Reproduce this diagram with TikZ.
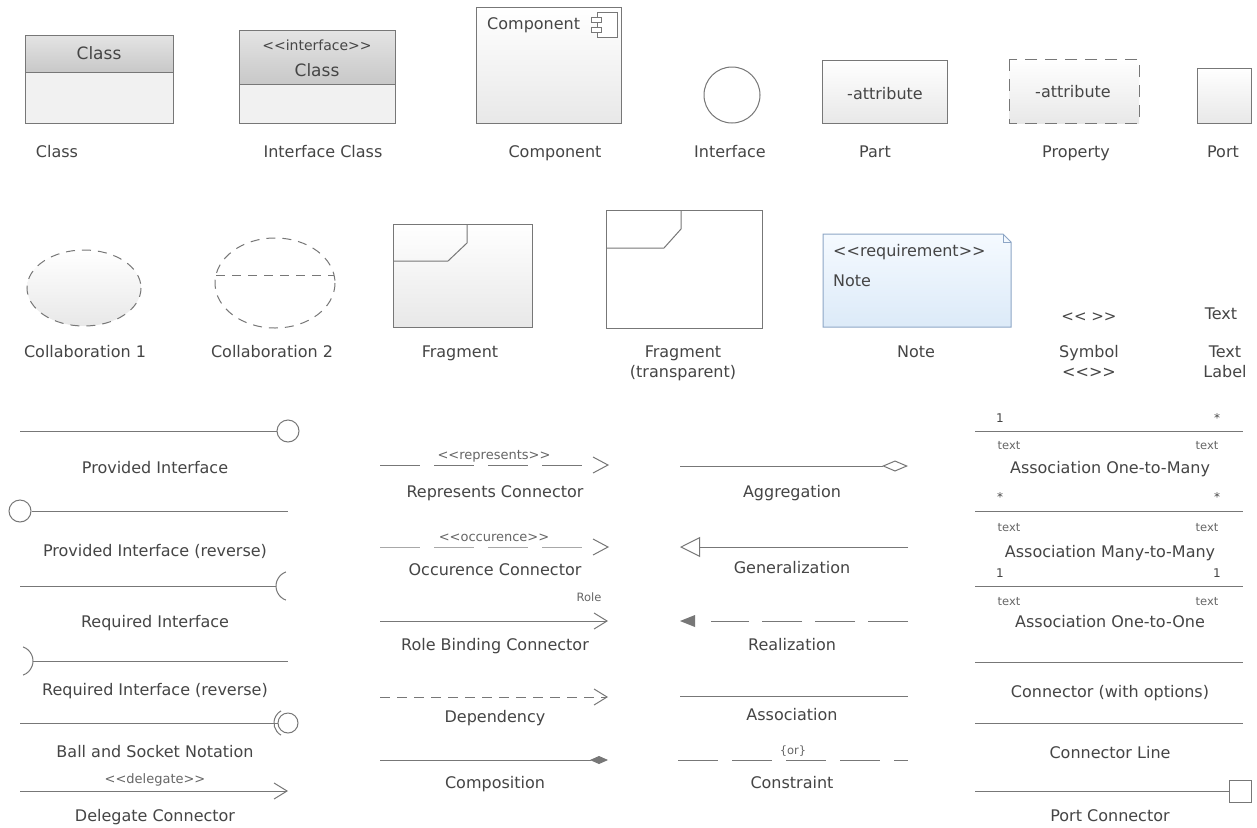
\documentclass[tikz,border=0pt]{standalone}
\usepackage{fontspec}
\setmainfont{DejaVu Sans}
\usetikzlibrary{arrows.meta,shapes.geometric,calc}
\definecolor{lnc}{HTML}{777777}
\definecolor{lnl}{HTML}{A8A8A8}
\definecolor{txc}{HTML}{454545}
\definecolor{txl}{HTML}{666666}
\definecolor{hdtop}{HTML}{E4E4E4}
\definecolor{hdbot}{HTML}{C8C8C8}
\definecolor{bodyc}{HTML}{F1F1F1}
\definecolor{grbot}{HTML}{E8E8E8}
\definecolor{notetop}{HTML}{F5FAFF}
\definecolor{notebot}{HTML}{DCEAF8}
\definecolor{notebd}{HTML}{8DA6C6}
\newcommand{\lgl}{<{}<}
\newcommand{\rgl}{>{}>}
\tikzset{
  lbl/.style={font=\fontsize{16}{20}\selectfont, text=txc, align=center, inner sep=0pt, anchor=base, yshift=-5.5pt},
  inbox/.style={font=\fontsize{16}{20}\selectfont, text=txc, inner sep=0pt, anchor=base, yshift=-5.5pt},
  inboxw/.style={font=\fontsize{16}{20}\selectfont, text=txc, inner sep=0pt, anchor=base west, yshift=-5.5pt},
  sm/.style={font=\fontsize{11.5}{13}\selectfont, text=txl, inner sep=0pt, anchor=base, yshift=-4pt},
  stereo/.style={font=\fontsize{13}{15}\selectfont, text=txl, inner sep=0pt, anchor=base, yshift=-4.5pt},
  mult/.style={font=\fontsize{12}{14}\selectfont, text=txc, inner sep=0pt, anchor=base, yshift=-4.5pt},
  ln/.style={draw=lnc, line width=1pt},
  lnlight/.style={draw=lnl, line width=1pt},
  longdash/.style={dash pattern=on 40pt off 14pt},
  shortdash/.style={dash pattern=on 10pt off 7pt},
  openarr/.style={-{Straight Barb[length=13pt,width=16pt,line width=1pt]}},
  ballnode/.style={circle, draw=lnc, line width=1pt, fill=white, inner sep=0pt},
  gradbox/.style={draw=lnc, line width=1pt, top color=white, bottom color=grbot},
}
\begin{document}
\begin{tikzpicture}[x=1pt,y=-1pt]
\useasboundingbox (0,0) rectangle (1257,827);
\fill[white] (0,0) rectangle (1257,827);

% ---------- Row 1 ----------
% Class
\shade[top color=hdtop, bottom color=hdbot] (25,35) rectangle (173,72);
\fill[bodyc] (25,72) rectangle (173,123);
\draw[ln] (25,35) rectangle (173,123);
\draw[ln] (25,72) -- (173,72);
\node[inbox, font=\fontsize{17}{20}\selectfont] (clsname) at (99,54) {Class};
\node[lbl] (clslbl) at (57,152) {Class};

% Interface class
\shade[top color=hdtop, bottom color=hdbot] (239,30) rectangle (395,84);
\fill[bodyc] (239,84) rectangle (395,123);
\draw[ln] (239,30) rectangle (395,123);
\draw[ln] (239,84) -- (395,84);
\node[inbox, font=\fontsize{14}{16}\selectfont, yshift=1pt] (ifst) at (317,46) {\lgl interface\rgl};
\node[inbox, font=\fontsize{17}{20}\selectfont] (ifname) at (317,71) {Class};
\node[lbl] (iflbl) at (323,152) {Interface Class};

% Component
\draw[gradbox] (476,7) rectangle (621,123);
\node[inboxw] (compname) at (487,24) {Component};
\draw[ln, fill=white] (597,12) rectangle (617,37);
\draw[ln, fill=white] (591,17) rectangle (601,22);
\draw[ln, fill=white] (591,27) rectangle (601,32);
\node[lbl] (complbl) at (555,152) {Component};

% Interface
\node[ballnode, minimum size=56pt] (ifc) at (732,95) {};
\node[lbl] (ifclbl) at (730,152) {Interface};

% Part
\draw[gradbox] (822,60) rectangle (947,123);
\node[inbox] (partattr) at (885,94) {-attribute};
\node[lbl] (partlbl) at (875,152) {Part};

% Property
\draw[draw=lnc, line width=1pt, dash pattern=on 12pt off 8pt, top color=white, bottom color=grbot] (1009,59) rectangle (1139,123);
\node[inbox] (propattr) at (1073,92) {-attribute};
\node[lbl] (proplbl) at (1076,152) {Property};

% Port
\draw[gradbox] (1197,68) rectangle (1251,123);
\node[lbl] (portlbl) at (1223,152) {Port};

% ---------- Row 2 ----------
% Collaboration 1
\draw[draw=lnc, line width=1pt, dash pattern=on 9pt off 7pt, top color=white, bottom color=grbot] (84,288) ellipse [x radius=57, y radius=38];
\node[lbl] (col1lbl) at (85,352) {Collaboration 1};

% Collaboration 2
\draw[draw=lnc, line width=1pt, dash pattern=on 9pt off 7pt] (275,283) ellipse [x radius=60, y radius=45];
\draw[draw=lnc, line width=1pt, dash pattern=on 9pt off 7pt] (216,275) -- (334,275);
\node[lbl] (col2lbl) at (272,352) {Collaboration 2};

% Fragment
\draw[gradbox] (393,224) rectangle (532,327);
\draw[ln] (393,261) -- (448,261) -- (467,243) -- (467,224);
\node[lbl] (fraglbl) at (460,352) {Fragment};

% Fragment transparent
\draw[ln] (606,210) rectangle (762,328);
\draw[ln] (606,248) -- (664,248) -- (681,229) -- (681,210);
\node[lbl] (fragtlbl) at (683,372) {Fragment\\(transparent)};

% Note
\draw[draw=notebd, line width=1pt, top color=notetop, bottom color=notebot] (823,234) -- (1003,234) -- (1011,242) -- (1011,327) -- (823,327) -- cycle;
\draw[draw=notebd, line width=1pt] (1003,234) -- (1003,242) -- (1011,242);
\node[inboxw] (notest) at (833,251) {\lgl requirement\rgl};
\node[inboxw] (notename) at (833,281) {Note};
\node[lbl] (notelbl) at (916,352) {Note};

% Symbol
\node[inbox, font=\fontsize{15}{18}\selectfont] (symb) at (1089,316) {\lgl\ \rgl};
\node[lbl] (symblbl) at (1089,372) {Symbol\\\lgl\rgl};

% Text label
\node[inbox] (txt) at (1221,314) {Text};
\node[lbl] (txtlbl) at (1225,372) {Text\\Label};

% ---------- Column 1 connectors ----------
% Provided Interface
\coordinate (pia) at (20,431);
\node[ballnode, minimum size=22pt] (pib) at (288,431) {};
\draw[ln] (pia) -- (pib);
\node[lbl] (pilbl) at (155,468) {Provided Interface};

% Provided Interface reverse
\node[ballnode, minimum size=22pt] (pra) at (20,511) {};
\coordinate (prb) at (288,511);
\draw[ln] (pra) -- (prb);
\node[lbl] (prlbl) at (155,551) {Provided Interface (reverse)};

% Required Interface
\coordinate (ria) at (20,586);
\coordinate (rib) at (276,586);
\draw[ln] (ria) -- (rib);
\draw[ln] ($(rib)+(15,0)$) ++(110:15) arc[start angle=110, end angle=250, radius=15];
\node[lbl] (rilbl) at (155,622) {Required Interface};

% Required Interface reverse
\coordinate (rra) at (33,661);
\coordinate (rrb) at (288,661);
\draw[ln] (rra) -- (rrb);
\draw[ln] ($(rra)+(-15,0)$) ++(-70:15) arc[start angle=-70, end angle=70, radius=15];
\node[lbl] (rrlbl) at (155,690) {Required Interface (reverse)};

% Ball and socket
\coordinate (bsa) at (20,723);
\node[ballnode, minimum size=20pt] (bsb) at (288,723) {};
\draw[ln] (bsa) -- (bsb);
\draw[ln] (bsb.center) ++(120:14) arc[start angle=120, end angle=240, radius=14];
\node[lbl] (bslbl) at (155,752) {Ball and Socket Notation};

% Delegate
\coordinate (dga) at (20,791);
\coordinate (dgb) at (288,791);
\draw[ln, openarr] (dga) -- (dgb);
\node[stereo] (dgst) at (155,779) {\lgl delegate\rgl};
\node[lbl] (dglbl) at (155,816) {Delegate Connector};

% ---------- Column 2 connectors ----------
% Represents
\coordinate (rpa) at (380,465);
\coordinate (rpb) at (582,465);
\draw[ln, longdash] (rpa) -- (rpb);
\draw[ln] (593,457) -- (608,465) -- (593,473);
\node[stereo] (rpst) at (494,455) {\lgl represents\rgl};
\node[lbl] (rplbl) at (495,492) {Represents Connector};

% Occurence
\coordinate (oca) at (380,547);
\coordinate (ocb) at (582,547);
\draw[lnlight, longdash] (oca) -- (ocb);
\draw[ln] (593,539) -- (608,547) -- (593,555);
\node[stereo] (ocst) at (494,537) {\lgl occurence\rgl};
\node[lbl] (oclbl) at (495,570) {Occurence Connector};

% Role binding
\coordinate (rba) at (380,621);
\coordinate (rbb) at (608,621);
\draw[ln, openarr] (rba) -- (rbb);
\node[sm] (rbst) at (589,597) {Role};
\node[lbl] (rblbl) at (495,645) {Role Binding Connector};

% Dependency
\coordinate (dpa) at (380,697);
\coordinate (dpb) at (608,697);
\draw[ln, shortdash, openarr] (dpa) -- (dpb);
\node[lbl] (dplbl) at (495,717) {Dependency};

% Composition
\coordinate (cpa) at (380,760);
\coordinate (cpb) at (608,760);
\draw[ln, -{Diamond[length=18pt,width=8pt,fill=lnc]}] (cpa) -- (cpb);
\node[lbl] (cplbl) at (495,783) {Composition};

% ---------- Column 3 connectors ----------
% Aggregation
\coordinate (aga) at (680,466);
\coordinate (agb) at (908,466);
\draw[ln, -{Diamond[open,length=26pt,width=11pt,line width=1pt]}] (aga) -- (agb);
\node[lbl] (aglbl) at (792,492) {Aggregation};

% Generalization
\coordinate (gna) at (908,547);
\coordinate (gnb) at (680,547);
\draw[ln, -{Triangle[open,length=20pt,width=20pt,line width=1pt]}] (gna) -- (gnb);
\node[lbl] (gnlbl) at (792,568) {Generalization};

% Realization
\coordinate (rla) at (908,621);
\coordinate (rlb) at (711,621);
\coordinate (rlt) at (680,621);
\draw[ln, dash pattern=on 40pt off 13pt] (rla) -- (rlb);
\fill[lnc] (rlt) -- (695,615) -- (695,627) -- cycle;
\node[lbl] (rllbl) at (792,645) {Realization};

% Association
\coordinate (asa) at (680,696);
\coordinate (asb) at (908,696);
\draw[ln] (asa) -- (asb);
\node[lbl] (aslbl) at (792,715) {Association};

% Constraint
\coordinate (csa) at (678,760);
\coordinate (csb) at (908,760);
\draw[ln, longdash] (csa) -- (csb);
\node[sm] (csst) at (793,750) {\{or\}};
\node[lbl] (cslbl) at (792,783) {Constraint};

% ---------- Column 4 connectors ----------
% One-to-many
\coordinate (oma) at (975,431);
\coordinate (omb) at (1243,431);
\draw[ln] (oma) -- (omb);
\node[mult] (om1) at (1000,418) {1};
\node[mult] (om2) at (1217,418) {*};
\node[sm] (omt1) at (1009,445) {text};
\node[sm] (omt2) at (1207,445) {text};
\node[lbl] (omlbl) at (1110,468) {Association One-to-Many};

% Many-to-many
\coordinate (mma) at (975,511);
\coordinate (mmb) at (1243,511);
\draw[ln] (mma) -- (mmb);
\node[mult] (mm1) at (1000,497) {*};
\node[mult] (mm2) at (1217,497) {*};
\node[sm] (mmt1) at (1009,527) {text};
\node[sm] (mmt2) at (1207,527) {text};
\node[lbl] (mmlbl) at (1110,552) {Association Many-to-Many};

% One-to-one
\coordinate (ooa) at (975,586);
\coordinate (oob) at (1243,586);
\draw[ln] (ooa) -- (oob);
\node[mult] (oo1) at (1000,573) {1};
\node[mult] (oo2) at (1217,573) {1};
\node[sm] (oot1) at (1009,601) {text};
\node[sm] (oot2) at (1207,601) {text};
\node[lbl] (oolbl) at (1110,622) {Association One-to-One};

% Connector with options
\coordinate (cwa) at (975,662);
\coordinate (cwb) at (1243,662);
\draw[ln] (cwa) -- (cwb);
\node[lbl] (cwlbl) at (1110,692) {Connector (with options)};

% Connector line
\coordinate (cla) at (975,723);
\coordinate (clb) at (1243,723);
\draw[ln] (cla) -- (clb);
\node[lbl] (cllbl) at (1110,753) {Connector Line};

% Port connector
\coordinate (pca) at (975,791);
\node[draw=lnc, line width=1pt, fill=white, minimum size=22pt, inner sep=0pt] (pcb) at (1240,791) {};
\draw[ln] (pca) -- (pcb);
\node[lbl] (pclbl) at (1110,816) {Port Connector};
\end{tikzpicture}
\end{document}
